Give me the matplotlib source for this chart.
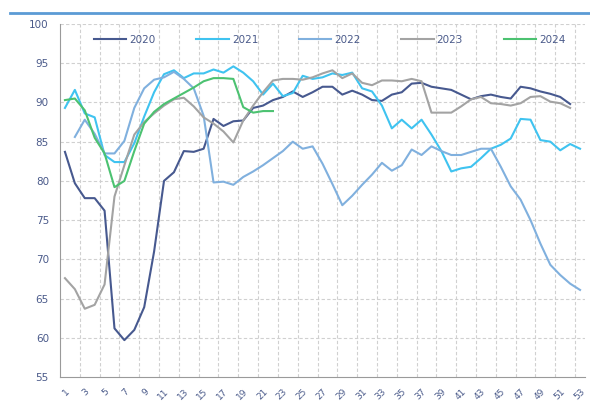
import numpy as np
import matplotlib
matplotlib.use("Agg")
import matplotlib.pyplot as plt
from matplotlib.lines import Line2D

# weekly values
y2020 = [83.7, 79.7, 77.8, 77.8, 76.2, 61.2, 59.7, 61.0, 63.9, 71.0,
         80.0, 81.1, 83.8, 83.7, 84.1, 87.9, 87.0, 87.6, 87.7, 89.3,
         89.6, 90.3, 90.7, 91.4, 90.7, 91.3, 92.0, 92.0, 91.0, 91.5,
         91.0, 90.3, 90.2, 91.0, 91.3, 92.4, 92.5, 92.0, 91.8, 91.6,
         91.0, 90.4, 90.8, 91.0, 90.7, 90.5, 92.0, 91.8, 91.4, 91.1,
         90.7, 89.8]
y2021 = [89.3, 91.6, 88.6, 88.1, 83.3, 82.4, 82.4, 84.8, 88.2, 91.3,
         93.6, 94.1, 93.1, 93.7, 93.7, 94.2, 93.8, 94.6, 93.8, 92.7,
         91.0, 92.4, 90.8, 91.2, 93.4, 93.0, 93.2, 93.7, 93.5, 93.8,
         91.8, 91.4, 89.6, 86.7, 87.8, 86.7, 87.8, 85.9, 83.8, 81.2,
         81.6, 81.8, 82.9, 84.1, 84.6, 85.4, 87.9, 87.8, 85.2, 85.0,
         83.9, 84.7, 84.1]
# 2022 starts at week 2
y2022 = [85.6, 87.8, 86.0, 83.5, 83.5, 85.1, 89.3, 91.8, 92.9, 93.2,
         93.9, 93.0, 91.8, 88.3, 79.8, 79.9, 79.5, 80.5, 81.2, 82.0,
         82.9, 83.8, 85.0, 84.1, 84.4, 82.2, 79.6, 76.9, 78.1, 79.5,
         80.8, 82.3, 81.3, 82.0, 84.0, 83.3, 84.4, 83.8, 83.3, 83.3,
         83.7, 84.1, 84.1, 81.8, 79.3, 77.6, 75.0, 72.0, 69.3, 68.0,
         66.9, 66.1]
y2023 = [67.6, 66.2, 63.7, 64.2, 66.8, 78.0, 82.0, 85.9, 87.5, 88.6,
         89.6, 90.4, 90.6, 89.5, 88.1, 87.3, 86.3, 84.9, 87.7, 89.6,
         91.3, 92.8, 93.0, 93.0, 92.9, 93.2, 93.7, 94.1, 93.1, 93.7,
         92.5, 92.2, 92.8, 92.8, 92.7, 93.0, 92.7, 88.7, 88.7, 88.7,
         89.5, 90.4, 90.7, 89.9, 89.8, 89.6, 89.9, 90.7, 90.8, 90.1,
         89.9, 89.3]
y2024 = [90.3, 90.5, 89.0, 85.5, 83.5, 79.2, 80.0, 83.8, 87.3, 88.8,
         89.8, 90.5, 91.2, 91.9, 92.7, 93.1, 93.1, 93.0, 89.4, 88.7,
         88.9, 88.9]

yticks = [55, 60, 65, 70, 75, 80, 85, 90, 95, 100]
xticks = list(range(1, 54, 2))

txt = "#4a5a8a"

fig = plt.figure(figsize=(5.9, 4.12), dpi=100)
ax = fig.add_axes([60 / 590, 1 - 377 / 412, 525 / 590, 353 / 412])

ax.plot(np.arange(1, len(y2020) + 1), y2020, color="#47598f", lw=1.5, label="2020")
ax.plot(np.arange(1, len(y2021) + 1), y2021, color="#3fc3f0", lw=1.5, label="2021")
ax.plot(np.arange(2, len(y2022) + 2), y2022, color="#80b0de", lw=1.5, label="2022")
ax.plot(np.arange(1, len(y2023) + 1), y2023, color="#a3a3a3", lw=1.5, label="2023")
ax.plot(np.arange(1, len(y2024) + 1), y2024, color="#4cc271", lw=1.5, label="2024")

ax.set_xlim(0.5, 53.5)
ax.set_ylim(55, 100)
ax.set_yticks(yticks)
ax.set_xticks(xticks)
ax.set_xticklabels([str(v) for v in xticks], rotation=45, ha="right",
                   rotation_mode="anchor", fontsize=6.5, color=txt)
ax.tick_params(axis="y", length=0, pad=8, labelsize=7.5, labelcolor=txt)
ax.tick_params(axis="x", length=0, pad=7)

# dashed grid, vertical lines between every second week
for yv in yticks[1:]:
    ax.axhline(yv, color="#d0d0d0", lw=0.8, ls=(0, (3, 2)), zorder=0)
for xv in np.arange(2.5, 54, 2):
    ax.axvline(xv, color="#d0d0d0", lw=0.8, ls=(0, (3, 2)), zorder=0)

for s in ["top", "right"]:
    ax.spines[s].set_visible(False)
ax.spines["left"].set_color("#9a9a9a")
ax.spines["bottom"].set_color("#9a9a9a")

ax.legend(loc="center", bbox_to_anchor=(0.514, 0.955), ncol=5, frameon=False,
          fontsize=7.5, labelcolor=txt, handlelength=3.1, handletextpad=0.3,
          columnspacing=3.9)

# blue rule under the cut-off heading
fig.add_artist(Line2D([10 / 590, 1.0], [1 - 13 / 412, 1 - 13 / 412],
                      color="#5b9bd5", lw=2))

fig.savefig("out.png", dpi=100)
